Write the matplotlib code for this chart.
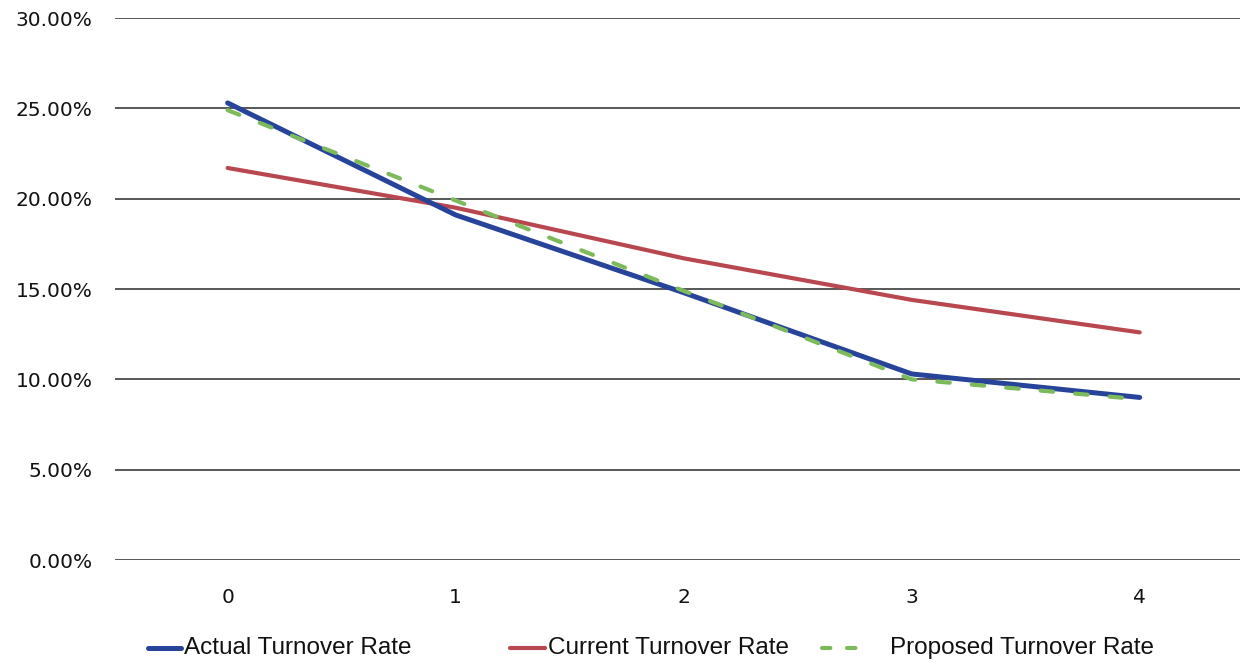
import matplotlib
matplotlib.use("Agg")
import matplotlib.pyplot as plt
from matplotlib.ticker import FuncFormatter, FixedLocator
from matplotlib.lines import Line2D

periods = [0, 1, 2, 3, 4]
actual_rate = [25.3, 19.1, 14.8, 10.3, 9.0]
current_rate = [21.7, 19.5, 16.7, 14.4, 12.6]
proposed_rate = [24.9, 19.9, 14.9, 10.0, 8.9]
y_ticks = [0, 5, 10, 15, 20, 25, 30]
series_names = ["Actual Turnover Rate", "Current Turnover Rate", "Proposed Turnover Rate"]

W, H = 1245, 662
fig = plt.figure(figsize=(W / 100, H / 100), dpi=100)
ax = fig.add_axes([0.092, 0.154, 0.904, 0.8188])

blue = "#27449a"
red = "#b9474f"
green = "#7dba5b"

styles = [
    dict(color=blue, lw=3.6, solid_capstyle="round", zorder=3),
    dict(color=red, lw=3.0, solid_capstyle="round", zorder=2),
    dict(color=green, lw=3.0, dashes=(3.0, 5.3), dash_capstyle="round", zorder=4),
]

for vals, st in zip([actual_rate, current_rate, proposed_rate], styles):
    ax.plot(periods, vals, **st)

ax.set_xlim(-0.496, 4.44)
ax.set_ylim(0, 30)
ax.yaxis.set_major_locator(FixedLocator(y_ticks))
ax.yaxis.set_major_formatter(FuncFormatter(lambda v, p: f"{v:.2f}%"))
ax.set_xticks(periods)
ax.set_xticklabels([str(p) for p in periods])
ax.grid(axis="y", color="#4a4a4a", lw=1.3)
ax.set_axisbelow(True)
for s in ax.spines.values():
    s.set_visible(False)
ax.tick_params(length=0, labelsize=14.5, colors="#111111")
ax.tick_params(axis="y", pad=16)
ax.tick_params(axis="x", pad=20)

# legend row along the bottom edge
leg_y = 1 - 648 / H
handle_spans = [(148, 181), (510, 545), (822, 856)]
text_x = [184, 548, 890]
for name, st, (h0, h1), tx in zip(series_names, styles, handle_spans, text_x):
    kw = {k: v for k, v in st.items() if k != "zorder"}
    if "dashes" in kw:
        kw["dashes"] = (2.0, 4.0)
    fig.add_artist(Line2D([h0 / W, h1 / W], [leg_y, leg_y], transform=fig.transFigure, **kw))
    fig.text(tx / W, leg_y, name, ha="left", va="center", fontsize=17.5,
             family="Liberation Sans", color="#111111")

fig.savefig("out.png", dpi=100, facecolor="white")
